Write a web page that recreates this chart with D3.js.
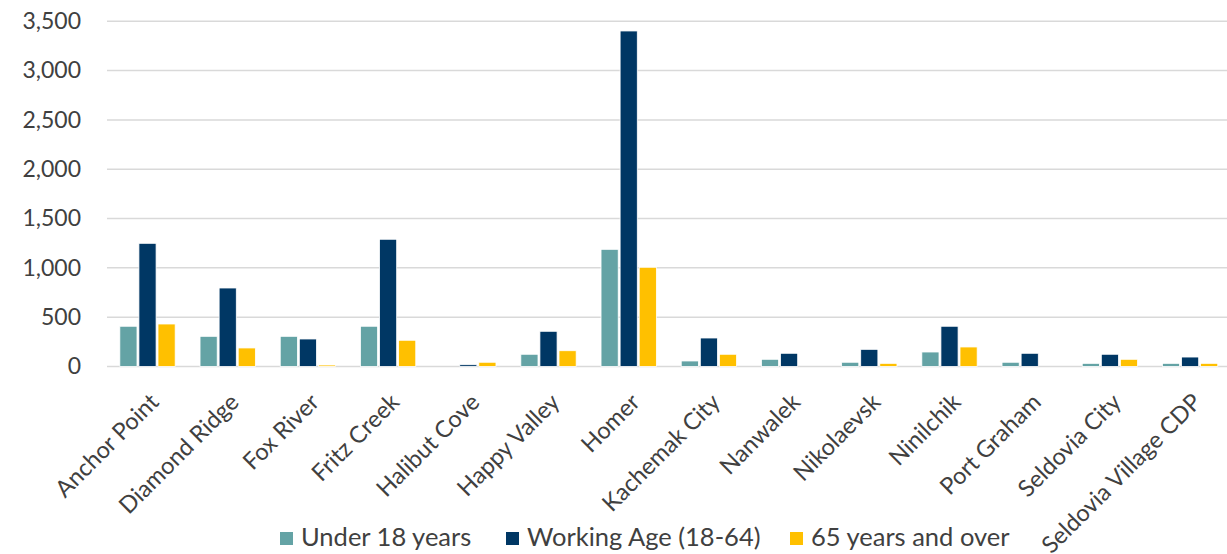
<!DOCTYPE html>
<html>
<head>
<meta charset="utf-8">
<script src="https://cdn.jsdelivr.net/npm/d3@7"></script>
<style>
  body { margin: 0; background: #fff; }
  svg { display: block; font-family: Lato, "Liberation Sans", sans-serif; }
  .tick text { fill: #404040; }
</style>
</head>
<body>
<div id="chart"></div>
<script>
var svgWidth = 1227;
var svgHeight = 554;

// data
var places = ["Anchor Point", "Diamond Ridge", "Fox River", "Fritz Creek", "Halibut Cove",
  "Happy Valley", "Homer", "Kachemak City", "Nanwalek", "Nikolaevsk", "Ninilchik",
  "Port Graham", "Seldovia City", "Seldovia Village CDP"];
var seriesNames = ["Under 18 years", "Working Age (18-64)", "65 years and over"];
var under18 = [408, 306, 306, 408, 0, 124, 1188, 56, 73, 43, 147, 43, 32, 32];
var workingAge = [1249, 796, 279, 1290, 18, 357, 3402, 289, 134, 174, 408, 134, 124, 96];
var over65 = [431, 188, 15, 266, 43, 160, 1006, 124, 0, 32, 198, 0, 73, 32];
var yTicks = [0, 500, 1000, 1500, 2000, 2500, 3000, 3500];
var colors = ["#64a3a5", "#003764", "#ffc000"];

var seriesValues = [under18, workingAge, over65];
var rows = places.map(function(p, i) {
  return { place: p, values: seriesValues.map(function(s) { return s[i]; }) };
});

var svg = d3.select("#chart")
  .append("svg")
  .attr("width", svgWidth)
  .attr("height", svgHeight);

var x0 = d3.scaleBand()
  .domain(places)
  .range([107.4, 1230.2])
  .paddingInner(0.31)
  .paddingOuter(0.155);

var x1 = d3.scaleBand()
  .domain(d3.range(3))
  .range([0, x0.bandwidth()])
  .paddingInner(0.1);

var y = d3.scaleLinear()
  .domain([0, 3500])
  .range([366.5, 21.3]);

// gridlines
svg.append("g")
  .selectAll("line")
  .data(yTicks)
  .enter()
  .append("line")
  .attr("x1", 107)
  .attr("x2", svgWidth)
  .attr("y1", function(d) { return y(d); })
  .attr("y2", function(d) { return y(d); })
  .attr("stroke", "#d9d9d9")
  .attr("stroke-width", 1.5);

// y axis labels
var leftAxis = d3.axisLeft(y)
  .tickValues(yTicks)
  .tickFormat(d3.format(","))
  .tickSize(0)
  .tickPadding(26);

svg.append("g")
  .attr("transform", "translate(107,0)")
  .call(leftAxis)
  .call(function(g) { g.select(".domain").remove(); })
  .selectAll("text")
  .attr("font-size", 23)
  .attr("font-family", "Lato, sans-serif");

// bars
var groups = svg.append("g")
  .selectAll("g")
  .data(rows)
  .enter()
  .append("g")
  .attr("transform", function(d) { return "translate(" + x0(d.place) + ",0)"; });

groups.selectAll("rect")
  .data(function(d) { return d.values.map(function(v, k) { return { k: k, v: v }; }); })
  .enter()
  .append("rect")
  .filter(function(d) { return d.v > 0; })
  .attr("x", function(d) { return x1(d.k); })
  .attr("y", function(d) { return y(d.v); })
  .attr("width", x1.bandwidth())
  .attr("height", function(d) { return y(0) - y(d.v); })
  .attr("fill", function(d) { return colors[d.k]; })
  .attr("stroke", "#ffffff")
  .attr("stroke-width", 0.8);

// category labels
svg.append("g")
  .selectAll("text")
  .data(places)
  .enter()
  .append("text")
  .attr("transform", function(d) {
    return "translate(" + (x0(d) + x0.bandwidth() / 2 + 1) + ",392) rotate(-45)";
  })
  .attr("text-anchor", "end")
  .attr("dy", "0.7em")
  .attr("font-size", 23.5)
  .attr("fill", "#404040")
  .text(function(d) { return d; });

// legend
var legendX = [280, 506, 790];
var legend = svg.append("g")
  .selectAll("g")
  .data(seriesNames)
  .enter()
  .append("g")
  .attr("transform", function(d, i) { return "translate(" + legendX[i] + ",532)"; });

legend.append("rect")
  .attr("width", 13)
  .attr("height", 13)
  .attr("fill", function(d, i) { return colors[i]; });

legend.append("text")
  .attr("x", 21)
  .attr("y", 14)
  .attr("font-size", 25.5)
  .attr("fill", "#404040")
  .text(function(d) { return d; });
</script>
</body>
</html>
